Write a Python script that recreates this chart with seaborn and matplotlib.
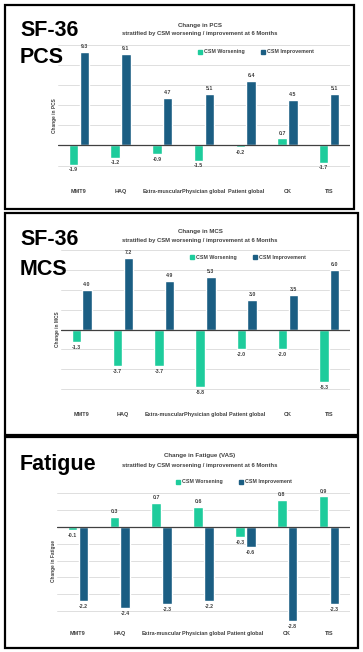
import pandas as pd
import matplotlib.pyplot as plt
import seaborn as sns
from matplotlib.patches import Patch, Rectangle

# categories and values
categories = ["MMT9", "HAQ", "Extra-muscular", "Physician global",
              "Patient global", "CK", "TIS"]
groups = ["CSM Worsening", "CSM Improvement"]

pcs_worsening = [-1.9, -1.2, -0.9, -1.5, -0.2, 0.7, -1.7]
pcs_improvement = [9.3, 9.1, 4.7, 5.1, 6.4, 4.5, 5.1]
mcs_worsening = [-1.3, -3.7, -3.7, -5.8, -2.0, -2.0, -5.3]
mcs_improvement = [4.0, 7.2, 4.9, 5.3, 3.0, 3.5, 6.0]
fatigue_worsening = [-0.1, 0.3, 0.7, 0.6, -0.3, 0.8, 0.9]
fatigue_improvement = [-2.2, -2.4, -2.3, -2.2, -0.6, -2.8, -2.3]

GREEN = "#1ecc9c"
BLUE = "#1b5e83"
TXT = "#404040"
W, H = 363, 652

sns.set_theme(style="white")
plt.rcParams["font.family"] = ["Liberation Sans", "DejaVu Sans"]

fig = plt.figure(figsize=(W / 100, H / 100), dpi=100)


def px_rect(x0, y0, x1, y1):
    return [x0 / W, 1 - y1 / H, (x1 - x0) / W, (y1 - y0) / H]


def panel(worse, impr, box, axrect, ylim, step, title, ylabel, big, big_y, leg_xy):
    # panel border
    bx0, by0, bx1, by1 = box
    fig.patches.append(Rectangle((bx0 / W, 1 - by1 / H), (bx1 - bx0) / W, (by1 - by0) / H,
                                 fill=False, ec="black", lw=1.6,
                                 transform=fig.transFigure, figure=fig))

    ax = fig.add_axes(px_rect(*axrect))
    df = pd.DataFrame({
        "cat": categories * 2,
        "val": worse + impr,
        "group": [groups[0]] * len(categories) + [groups[1]] * len(categories),
    })
    sns.barplot(data=df, x="cat", y="val", hue="group", order=categories,
                hue_order=groups, palette=[GREEN, BLUE], saturation=1,
                width=0.52, gap=0.12, legend=False, ax=ax)
    for cont in ax.containers:
        ax.bar_label(cont, fmt="%.1f", padding=2, fontsize=3.8,
                     fontweight="bold", color=TXT)

    lo, hi = ylim
    ticks = []
    t = lo
    while t <= hi + 1e-9:
        ticks.append(round(t, 2))
        t += step
    ax.set_ylim(lo, hi)
    ax.set_xlim(-0.5, len(categories) - 0.5)
    ax.set_yticks(ticks)
    ax.grid(axis="y", color="#d9d9d9", lw=0.6)
    ax.set_axisbelow(True)
    ax.axhline(0, color="#404040", lw=0.9, zorder=3)
    for s in ax.spines.values():
        s.set_visible(False)
    ax.tick_params(axis="y", length=0, labelleft=False)
    ax.tick_params(axis="x", length=0, pad=2.5)
    for lab in ax.get_xticklabels():
        lab.set_fontsize(3.95)
        lab.set_fontweight("bold")
        lab.set_color(TXT)
    ax.set_xlabel("")
    ax.set_ylabel(ylabel, fontsize=3.4, fontweight="bold", color=TXT, labelpad=1)

    # chart title above the plot
    cx = 200
    fig.text(cx / W, 1 - title[2] / H, title[0], ha="center", va="center",
             fontsize=4.4, fontweight="bold", color=TXT)
    fig.text(cx / W, 1 - title[3] / H, title[1], ha="center", va="center",
             fontsize=4.2, fontweight="bold", color=TXT)

    # big panel label
    for line, yb in zip(big, big_y):
        fig.text(20 / W, 1 - yb / H, line, ha="left", va="baseline",
                 fontsize=15.5, fontweight="bold", color="black")

    handles = [Patch(color=GREEN, label=groups[0]), Patch(color=BLUE, label=groups[1])]
    fig.legend(handles=handles, loc="center", ncol=2, frameon=False,
               bbox_to_anchor=(leg_xy[0] / W, 1 - leg_xy[1] / H),
               bbox_transform=fig.transFigure,
               handlelength=0.7, handleheight=0.7, handletextpad=0.4,
               columnspacing=3.0, prop={"weight": "bold", "size": 3.8},
               labelcolor=TXT)
    return ax


subtitle = "stratified by CSM worsening / improvement at 6 Months"

panel(pcs_worsening, pcs_improvement, (5, 5, 354, 209), (58, 44.7, 350, 185.7),
      (-4, 10), 2, ("Change in PCS", subtitle, 25, 34), "Change in PCS",
      ["SF-36", "PCS"], [36, 63], (256, 52))

panel(mcs_worsening, mcs_improvement, (5, 213, 358, 435), (61, 250, 350, 409),
      (-8, 8), 2, ("Change in MCS", subtitle, 232, 240.5), "Change in MCS",
      ["SF-36", "MCS"], [245, 275], (248, 257))

panel(fatigue_worsening, fatigue_improvement, (5, 437, 358, 648), (57, 493, 350, 628),
      (-3, 1), 0.5, ("Change in Fatigue (VAS)", subtitle, 455, 465), "Change in Fatigue",
      ["Fatigue"], [470], (234, 482))

fig.savefig("out.png", dpi=100)
